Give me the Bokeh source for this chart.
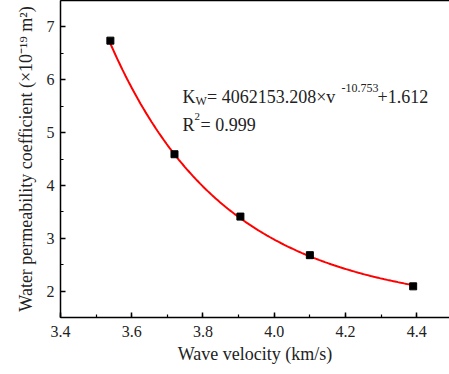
from bokeh.plotting import figure
from bokeh.models import Range1d, SingleIntervalTicker, LinearAxis, Label, FixedTicker, PrintfTickFormatter
from bokeh.embed import file_html
from bokeh.resources import INLINE
import numpy as np

# data
velocity = [3.54, 3.72, 3.905, 4.10, 4.39]
permeability = [6.74, 4.59, 3.41, 2.68, 2.09]

# fitted model shown in the chart: Kw = a * v^b + c
fit_a = 4062153.208
fit_b = -10.753
fit_c = 1.612

FONT = "Liberation Serif"

p = figure(width=449, height=374, output_backend="svg", toolbar_location=None,
           x_range=Range1d(3.4, 4.492), y_range=Range1d(1.5, 7.5),
           min_border_left=60, min_border_right=0, min_border_top=0, min_border_bottom=57)
p.outline_line_color = None
p.grid.visible = False
p.background_fill_color = "white"
p.border_fill_color = "white"

xa = p.below[0]
ya = p.left[0]
xa.ticker = SingleIntervalTicker(interval=0.2, num_minor_ticks=2)
ya.ticker = SingleIntervalTicker(interval=1, num_minor_ticks=2)
xa.formatter = PrintfTickFormatter(format="%.1f")
ya.formatter = PrintfTickFormatter(format="%d")

for ax in (xa, ya):
    ax.axis_line_width = 1.5
    ax.axis_line_color = "black"
    ax.major_tick_in = 5
    ax.major_tick_out = 0
    ax.minor_tick_in = 3
    ax.minor_tick_out = 0
    ax.major_tick_line_width = 1.5
    ax.minor_tick_line_width = 1.2
    ax.major_label_text_font = FONT
    ax.major_label_text_font_size = "16px"
    ax.major_label_text_font_style = "normal"
    ax.major_label_text_color = "#222222"
    ax.axis_label_text_font = FONT
    ax.axis_label_text_font_size = "18px"
    ax.axis_label_text_font_style = "normal"
    ax.axis_label_text_color = "#222222"

xa.axis_label = "Wave velocity (km/s)"
ya.axis_label = "Water permeability coefficient (×10⁻¹⁹ m²)"
xa.major_label_standoff = 8
xa.axis_label_standoff = 4
ya.major_label_standoff = 6
ya.axis_label_standoff = 8

top = LinearAxis(axis_line_width=1.5, axis_line_color="black",
                 ticker=FixedTicker(ticks=[]),
                 major_tick_line_color=None, minor_tick_line_color=None,
                 major_label_standoff=0)
p.add_layout(top, "above")

# fit curve
vv = np.linspace(min(velocity), max(velocity), 200)
kk = fit_a * vv ** fit_b + fit_c
p.line(vv, kk, line_color="red", line_width=2)
p.scatter(velocity, permeability, marker="square", size=7, fill_color="black", line_color="black")

def dx(px):
    return 3.4 + (px - 60) / 356.25

def dy(py):
    return 7.5 - (py - 8) / 51.5

def lab(txt, px, py, size):
    p.add_layout(Label(x=dx(px), y=dy(py), text=txt, text_font=FONT, text_font_size=size,
                       text_color="#222222", text_baseline="alphabetic", text_align="left"))

lab("K", 182, 101.7, "18px")
lab("W", 195, 105.5, "12px")
lab("= 4062153.208×v", 206.5, 101.7, "18px")
lab("-10.753", 341, 93.5, "12px")
lab("+1.612", 377, 101.7, "18px")
lab("R", 182, 129.3, "18px")
lab("2", 194, 121, "11px")
lab("= 0.999", 200, 129.3, "18px")

open("out.html", "w").write(file_html(p, INLINE))
